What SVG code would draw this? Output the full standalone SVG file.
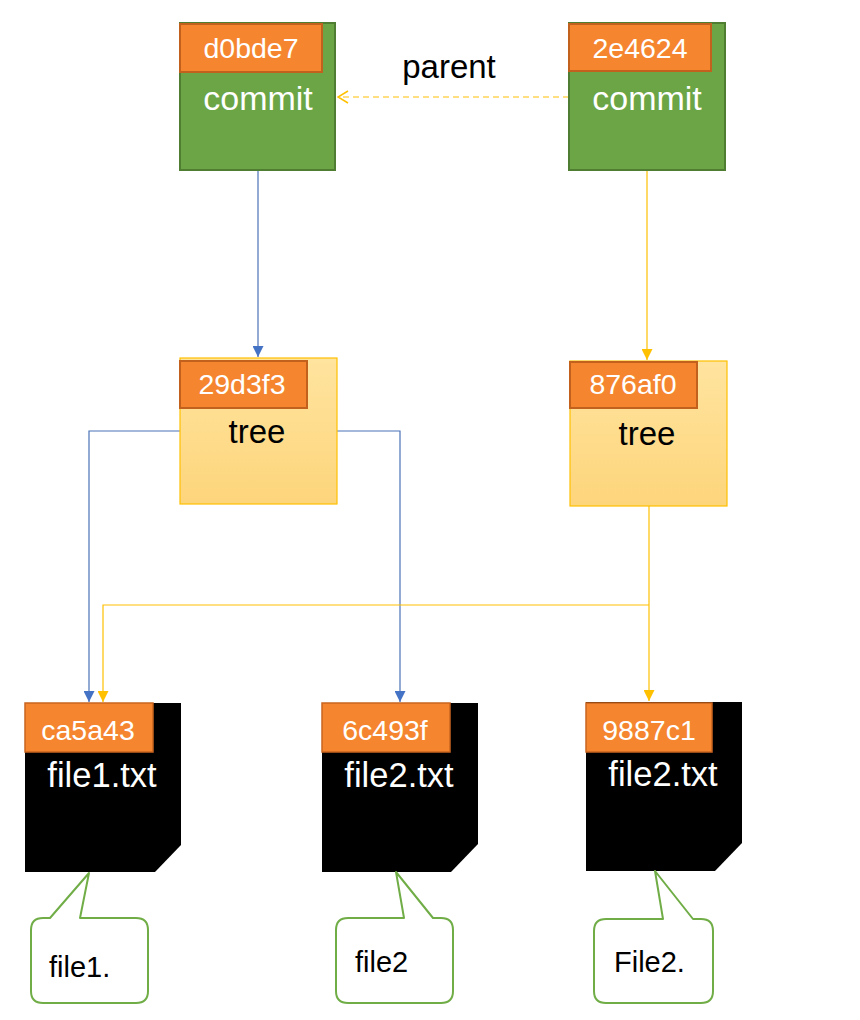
<svg xmlns="http://www.w3.org/2000/svg" width="860" height="1020" viewBox="0 0 860 1020">
<style>
text{font-family:"Liberation Sans",Arial,sans-serif}
.hash{fill:#F5862F;stroke:#C2601D;stroke-width:2}
.fhash{fill:#F5862F;stroke:#C9641F;stroke-width:1.5}
.commit{fill:#6BA545;stroke:#4F7E33;stroke-width:2}
.tree{fill:url(#tg);stroke:#FFC000;stroke-width:1.2}
.file{fill:#000}
.call{fill:#fff;stroke:#70AD47;stroke-width:2;stroke-linejoin:round}
.ht{fill:#fff;font-size:28.5px;text-anchor:middle}
.wt{fill:#fff;font-size:34px;text-anchor:middle}
.ft{fill:#fff;font-size:34.5px;text-anchor:middle}
.bt{fill:#000;font-size:33px;text-anchor:middle}
.ct{fill:#000;font-size:29px}
.blue{fill:none;stroke:#4A72B8;stroke-width:1.2}
.gold{fill:none;stroke:#FFC000;stroke-width:1.2}
</style>
<defs>
<linearGradient id="tg" x1="0" y1="0" x2="0" y2="1">
<stop offset="0" stop-color="#FFE49F"/>
<stop offset="1" stop-color="#FDD57B"/>
</linearGradient>
<marker id="ab" viewBox="0 0 10 10" refX="10" refY="5" markerWidth="11" markerHeight="11" markerUnits="userSpaceOnUse" orient="auto">
<path d="M0,0 L10,5 L0,10 Z" fill="#4472C4"/>
</marker>
<marker id="ay" viewBox="0 0 10 10" refX="10" refY="5" markerWidth="11" markerHeight="11" markerUnits="userSpaceOnUse" orient="auto">
<path d="M0,0 L10,5 L0,10 Z" fill="#FFC000"/>
</marker>
<marker id="ao" viewBox="0 0 12 14" refX="11" refY="7" markerWidth="12" markerHeight="14" markerUnits="userSpaceOnUse" orient="auto">
<path d="M1,1 L11,7 L1,13" fill="none" stroke="#FFC000" stroke-width="1.5"/>
</marker>
</defs>

<g id="connectors">
<path class="gold" d="M569,97 H338" stroke-dasharray="6,4" marker-end="url(#ao)"/>
<text x="449" y="78" class="bt">parent</text>
<path class="blue" d="M258,170 V357" marker-end="url(#ab)"/>
<path class="gold" d="M647,170 V360" marker-end="url(#ay)"/>
<path class="blue" d="M180,431 H89 V702" marker-end="url(#ab)"/>
<path class="blue" d="M337,431 H400 V702" marker-end="url(#ab)"/>
<path class="gold" d="M649,506 V701" marker-end="url(#ay)"/>
<path class="gold" d="M649,605 H103 V702" marker-end="url(#ay)"/>
</g>

<g id="commit-d0bde7">
<rect class="commit" x="180" y="23" width="155" height="147"/>
<rect class="hash" x="180" y="24" width="142" height="48"/>
<text class="ht" x="251" y="58">d0bde7</text>
<text class="wt" x="258" y="110">commit</text>
</g>

<g id="commit-2e4624">
<rect class="commit" x="569" y="23" width="156" height="147"/>
<rect class="hash" x="569" y="24" width="142" height="47"/>
<text class="ht" x="640" y="58">2e4624</text>
<text class="wt" x="647" y="110">commit</text>
</g>

<g id="tree-29d3f3">
<rect class="tree" x="180" y="358" width="157" height="146"/>
<rect class="hash" x="180" y="361" width="127" height="47"/>
<text class="ht" x="242" y="394">29d3f3</text>
<text class="bt" x="257" y="443">tree</text>
</g>

<g id="tree-876af0">
<rect class="tree" x="570" y="361" width="157" height="145"/>
<rect class="hash" x="570" y="362" width="127" height="46"/>
<text class="ht" x="633" y="394">876af0</text>
<text class="bt" x="647" y="445">tree</text>
</g>

<g id="file-ca5a43">
<path class="file" d="M25,703 H181 V845 L155,872 H25 Z"/>
<rect class="fhash" x="25" y="703" width="128" height="49"/>
<text class="ht" x="88" y="740">ca5a43</text>
<text class="ft" x="102" y="787">file1.txt</text>
</g>

<g id="file-6c493f">
<path class="file" d="M322,703 H478 V844 L451,872 H322 Z"/>
<rect class="fhash" x="322" y="703" width="128" height="49"/>
<text class="ht" x="385" y="740">6c493f</text>
<text class="ft" x="399" y="787">file2.txt</text>
</g>

<g id="file-9887c1">
<path class="file" d="M586,702 H742 V843 L715,871 H586 Z"/>
<rect class="fhash" x="586" y="703" width="126" height="49"/>
<text class="ht" x="649" y="740">9887c1</text>
<text class="ft" x="663" y="786">file2.txt</text>
</g>

<g id="note-file1">
<path class="call" d="M43,918 H50 L89,873 L80,918 H136 Q148,918 148,930 V991 Q148,1003 136,1003 H43 Q31,1003 31,991 V930 Q31,918 43,918 Z"/>
<text class="ct" x="49" y="977">file1.</text>
</g>

<g id="note-file2">
<path class="call" d="M348,918 H404 L396,872 L433,918 H441 Q453,918 453,930 V991 Q453,1003 441,1003 H348 Q336,1003 336,991 V930 Q336,918 348,918 Z"/>
<text class="ct" x="355" y="972">file2</text>
</g>

<g id="note-File2">
<path class="call" d="M606,919 H663 L655,871 L693,919 H701 Q713,919 713,931 V991 Q713,1003 701,1003 H606 Q594,1003 594,991 V931 Q594,919 606,919 Z"/>
<text class="ct" x="614" y="972">File2.</text>
</g>
</svg>
